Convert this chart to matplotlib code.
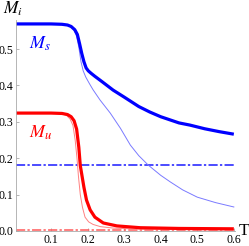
import matplotlib
matplotlib.use('Agg')
import matplotlib.pyplot as plt

plt.rcParams['mathtext.fontset'] = 'stix'
plt.rcParams['font.family'] = ['Liberation Serif', 'DejaVu Serif']

# thick blue, M_s
ms_T = [0.004, 0.05, 0.10, 0.13, 0.145, 0.155, 0.165, 0.172, 0.178, 0.184, 0.19, 0.196,
        0.202, 0.21, 0.22, 0.24, 0.27, 0.30, 0.34, 0.37, 0.40, 0.45, 0.48, 0.52, 0.56, 0.60]
ms_M = [0.569, 0.569, 0.569, 0.568, 0.566, 0.562, 0.553, 0.54, 0.515, 0.488, 0.465, 0.448,
        0.44, 0.433, 0.425, 0.41, 0.387, 0.368, 0.342, 0.327, 0.314, 0.297, 0.291, 0.281, 0.273, 0.266]

# thin blue
ms2_T = [0.004, 0.10, 0.14, 0.152, 0.162, 0.17, 0.176, 0.182, 0.188, 0.195, 0.205, 0.215,
         0.234, 0.262, 0.29, 0.317, 0.34, 0.366, 0.40, 0.426, 0.46, 0.50, 0.55, 0.60]
ms2_M = [0.569, 0.569, 0.567, 0.563, 0.553, 0.535, 0.505, 0.465, 0.44, 0.423, 0.405, 0.388,
         0.36, 0.324, 0.282, 0.236, 0.207, 0.181, 0.153, 0.135, 0.113, 0.093, 0.078, 0.066]

# thick red, M_u
mu_T = [0.004, 0.10, 0.13, 0.145, 0.155, 0.163, 0.17, 0.176, 0.18, 0.185, 0.19, 0.197,
        0.207, 0.22, 0.243, 0.28, 0.344, 0.45, 0.60]
mu_M = [0.324, 0.324, 0.323, 0.32, 0.314, 0.303, 0.28, 0.23, 0.18, 0.15, 0.12, 0.085,
        0.058, 0.038, 0.022, 0.014, 0.009, 0.007, 0.006]

# thin red
mu2_T = [0.004, 0.10, 0.13, 0.142, 0.152, 0.16, 0.166, 0.171, 0.175, 0.18, 0.186, 0.193,
         0.203, 0.215, 0.235, 0.27, 0.34, 0.45, 0.60]
mu2_M = [0.324, 0.324, 0.322, 0.318, 0.308, 0.29, 0.25, 0.2, 0.15, 0.1, 0.065, 0.038,
         0.025, 0.018, 0.012, 0.008, 0.005, 0.004, 0.003]

# constant levels
ms_level = 0.181
mu_level = 0.004

x_ticks = [0.1, 0.2, 0.3, 0.4, 0.5, 0.6]
y_ticks = [0.0, 0.1, 0.2, 0.3, 0.4, 0.5]

fig = plt.figure(figsize=(2.49, 2.46), dpi=100)
ax = fig.add_axes([0.064, 0.061, 0.878, 0.858])

ax.axhline(ms_level, color='#1a1aff', lw=1.1, dashes=(6, 1.5, 1.5, 1.5))
ax.axhline(mu_level, color='#ff5a5a', lw=1.1, dashes=(6, 1.5, 1.5, 1.5))
ax.plot(ms2_T, ms2_M, color='#7a7aff', lw=0.7)
ax.plot(mu2_T, mu2_M, color='#ff8080', lw=0.7)
ax.plot(ms_T, ms_M, color='#0000ff', lw=2.3, solid_capstyle='butt')
ax.plot(mu_T, mu_M, color='#ff0000', lw=2.3, solid_capstyle='butt')

ax.set_xlim(0.004, 0.602)
ax.set_ylim(0, 0.58)
ax.set_xticks(x_ticks)
ax.set_yticks(y_ticks)
ax.set_xticklabels(['%.1f' % v for v in x_ticks])
ax.set_yticklabels(['%.1f' % v for v in y_ticks])
ax.tick_params(labelsize=8.5, length=2.5, width=0.5, color='#999999', pad=2, direction='in')
for s in ['top', 'right']:
    ax.spines[s].set_visible(False)
for s in ['left', 'bottom']:
    ax.spines[s].set_color('#aaaaaa')
    ax.spines[s].set_linewidth(0.6)

ax.text(0.04, 0.515, r'$M_s$', color='#0000ff', fontsize=13, ha='left', va='center')
ax.text(0.04, 0.27, r'$M_u$', color='#ff0000', fontsize=13, ha='left', va='center')
fig.text(0.012, 0.965, r'$M_i$', fontsize=12.5, ha='left', va='center')
fig.text(0.978, 0.062, 'T', fontsize=12.5, ha='center', va='center')

fig.savefig('out.png', dpi=100)
